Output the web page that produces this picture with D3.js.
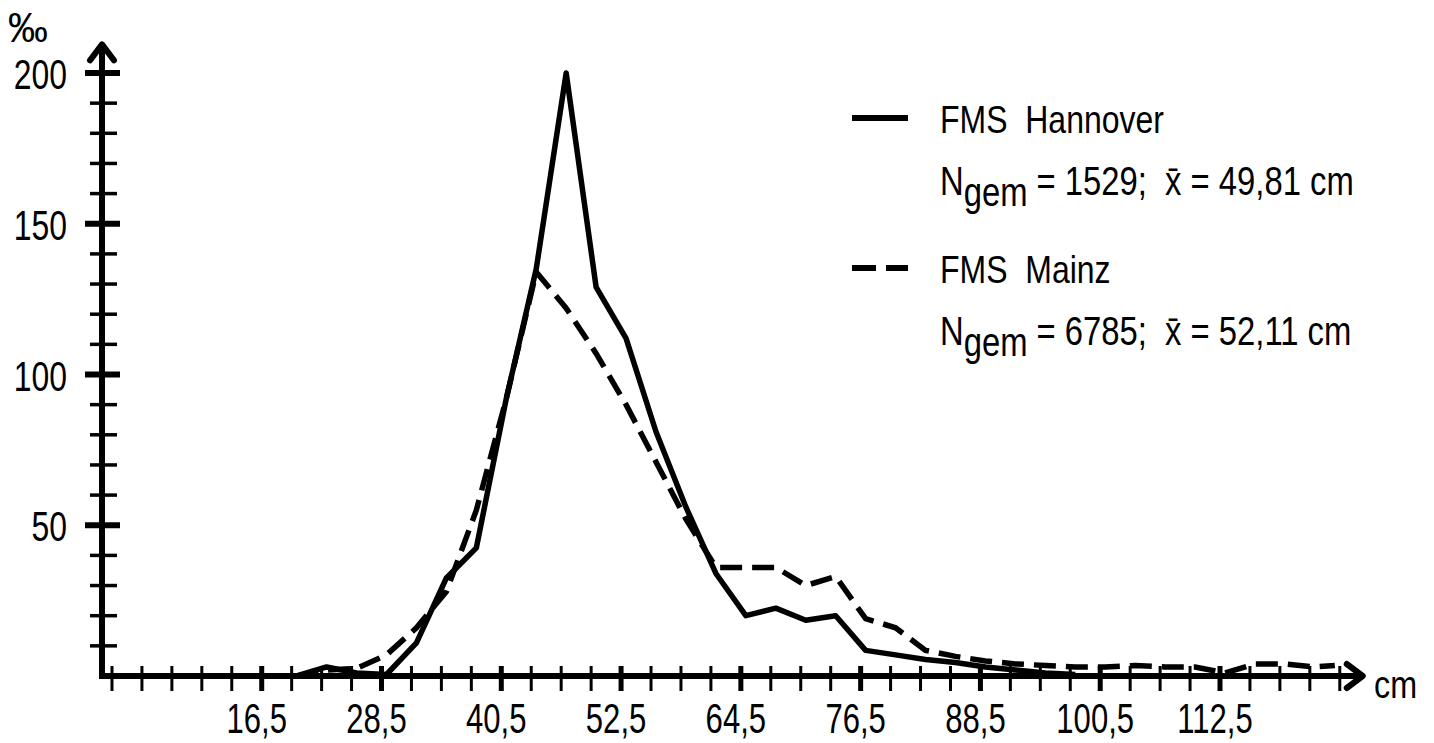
<!DOCTYPE html>
<html>
<head>
<meta charset="utf-8">
<script src="https://cdn.jsdelivr.net/npm/d3@7"></script>
<style>
  body { margin: 0; background: #fff; }
  text { font-family: "Liberation Sans", Arial, sans-serif; fill: #000; }
</style>
</head>
<body>
<div id="chart"></div>
<script>
// class midpoints (cm) and frequencies (per mille)
var cmHannover = [20, 23, 26, 29, 32, 35, 38, 41, 44, 47, 50, 53, 56, 59, 62, 65, 68, 71, 74, 77, 80, 83, 86, 89, 92, 95, 98];
var hannover = [0, 3, 1, 0.5, 11, 32.5, 42.5, 92, 135, 200, 129, 112, 81, 56, 34, 20, 22.5, 18.5, 20, 8.5, 7, 5.5, 4.5, 3, 2, 1, 0.5];

var cmMainz = [20, 23, 26, 29, 32, 35, 38, 41, 44, 47, 50, 53, 56, 59, 62, 65, 68, 71, 74, 77, 80, 83, 86, 89, 92, 95, 98, 101, 104, 107, 110, 113, 116, 119, 122, 124];
var mainz = [0, 2, 2.5, 7, 16, 28, 55, 92, 134, 122, 107, 90, 71, 52, 36, 36, 36, 30, 33, 19, 16, 8.5, 6.5, 5, 4, 3.5, 3, 3, 3.5, 3, 3, 1, 4, 4, 3, 3.5];

var xTickLabels = [16.5, 28.5, 40.5, 52.5, 64.5, 76.5, 88.5, 100.5, 112.5];
var yTickLabels = [50, 100, 150, 200];

var legendNames = ["FMS Hannover", "FMS Mainz"];
var legendN = ["1529", "6785"];
var legendMean = ["49,81", "52,11"];
var legendDash = ["none", "24,10"];

var width = 1434, height = 743;
var narrow = 0.76; // lettering is a narrow stencil font

var svg = d3
  .select("#chart")
  .append("svg")
  .attr("width", width)
  .attr("height", height);

var x = d3.scaleLinear().domain([0.5, 112.5]).range([102, 1220]);
var y = d3.scaleLinear().domain([0, 200]).range([676, 73]);

var xEnd = 126.8, yEnd = 209.5;

function squeeze(tx, ty, sx) {
  return "translate(" + tx + "," + ty + ") scale(" + sx + ",1)";
}

// axes
var axes = svg.append("g").attr("stroke", "#000").attr("fill", "none");

axes
  .append("line")
  .attr("x1", x(0.5))
  .attr("x2", x(xEnd))
  .attr("y1", y(0))
  .attr("y2", y(0))
  .attr("stroke-width", 6);

axes
  .append("line")
  .attr("x1", x(0.5))
  .attr("x2", x(0.5))
  .attr("y1", y(0) + 3)
  .attr("y2", y(yEnd))
  .attr("stroke-width", 6);

// arrow heads
axes
  .append("path")
  .attr("d", "M" + (x(0.5) - 12) + "," + (y(yEnd) + 16) + "L" + x(0.5) + "," + y(yEnd) + "L" + (x(0.5) + 12) + "," + (y(yEnd) + 16))
  .attr("stroke-width", 6)
  .attr("stroke-linecap", "round")
  .attr("stroke-linejoin", "round");

axes
  .append("path")
  .attr("d", "M" + (x(xEnd) - 16) + "," + (y(0) - 12) + "L" + x(xEnd) + "," + y(0) + "L" + (x(xEnd) - 16) + "," + (y(0) + 12))
  .attr("stroke-width", 6)
  .attr("stroke-linecap", "round")
  .attr("stroke-linejoin", "round");

// x ticks every 3 cm
var xTicks = d3.range(1.5, 125, 3);
axes
  .selectAll(".xt")
  .data(xTicks)
  .enter()
  .append("line")
  .attr("class", "xt")
  .attr("x1", function (d) { return x(d); })
  .attr("x2", function (d) { return x(d); })
  .attr("y1", y(0) - 10)
  .attr("y2", y(0) + 15)
  .attr("stroke-width", function (d) {
    return xTickLabels.indexOf(d) >= 0 ? 5 : 3;
  });

// y ticks every 10
var yTicks = d3.range(10, 201, 10);
axes
  .selectAll(".yt")
  .data(yTicks)
  .enter()
  .append("line")
  .attr("class", "yt")
  .attr("x1", function (d) { return yTickLabels.indexOf(d) >= 0 ? x(0.5) - 17 : x(0.5) - 12; })
  .attr("x2", function (d) { return yTickLabels.indexOf(d) >= 0 ? x(0.5) + 18 : x(0.5) + 15; })
  .attr("y1", function (d) { return y(d); })
  .attr("y2", function (d) { return y(d); })
  .attr("stroke-width", function (d) {
    return yTickLabels.indexOf(d) >= 0 ? 6 : 3.5;
  });

// tick labels
svg
  .selectAll(".xl")
  .data(xTickLabels)
  .enter()
  .append("text")
  .attr("class", "xl")
  .attr("transform", function (d) { return squeeze(x(d) - 5, y(0) + 57, 0.74); })
  .attr("text-anchor", "middle")
  .attr("font-size", 42)
  .text(function (d) { return String(d).replace(".", ","); });

svg
  .selectAll(".yl")
  .data(yTickLabels)
  .enter()
  .append("text")
  .attr("class", "yl")
  .attr("transform", function (d) { return squeeze(67, y(d) + 16, narrow); })
  .attr("text-anchor", "end")
  .attr("font-size", 42)
  .text(function (d) { return d; });

svg.append("text").attr("transform", squeeze(8, 42, 0.95)).attr("font-size", 42).text("\u2030");
svg.append("text").attr("transform", squeeze(1374, 698, 0.85)).attr("font-size", 38).text("cm");

// curves
var line = d3
  .line()
  .x(function (d) { return x(d[0]); })
  .y(function (d) { return y(d[1]); });

svg
  .append("path")
  .datum(d3.zip(cmMainz, mainz))
  .attr("d", line)
  .attr("fill", "none")
  .attr("stroke", "#000")
  .attr("stroke-width", 5.5)
  .attr("stroke-dasharray", "22,10");

svg
  .append("path")
  .datum(d3.zip(cmHannover, hannover))
  .attr("d", line)
  .attr("fill", "none")
  .attr("stroke", "#000")
  .attr("stroke-width", 5.5)
  .attr("stroke-linejoin", "round");

// legend
var leg = svg
  .selectAll(".leg")
  .data(legendNames)
  .enter()
  .append("g")
  .attr("class", "leg")
  .attr("transform", function (d, i) {
    return "translate(852," + (118 + i * 150) + ")";
  });

leg
  .append("line")
  .attr("x1", 0)
  .attr("x2", 56)
  .attr("y1", 0)
  .attr("y2", 0)
  .attr("stroke", "#000")
  .attr("stroke-width", 6)
  .attr("stroke-dasharray", function (d, i) { return legendDash[i] == "none" ? null : legendDash[i]; });

leg
  .append("text")
  .attr("transform", squeeze(88, 15, 0.82))
  .attr("font-size", 39)
  .attr("xml:space", "preserve")
  .text(function (d) { return d.replace(" ", "  "); });

var stat = leg
  .append("text")
  .attr("transform", squeeze(88, 77, 0.8))
  .attr("font-size", 41)
  .attr("xml:space", "preserve");

stat.append("tspan").text("N");
stat.append("tspan").attr("dy", 11).text("gem");
stat
  .append("tspan")
  .attr("dy", -11)
  .text(function (d, i) { return " = " + legendN[i] + ";  x\u0304 = " + legendMean[i] + " cm"; });
</script>
</body>
</html>
